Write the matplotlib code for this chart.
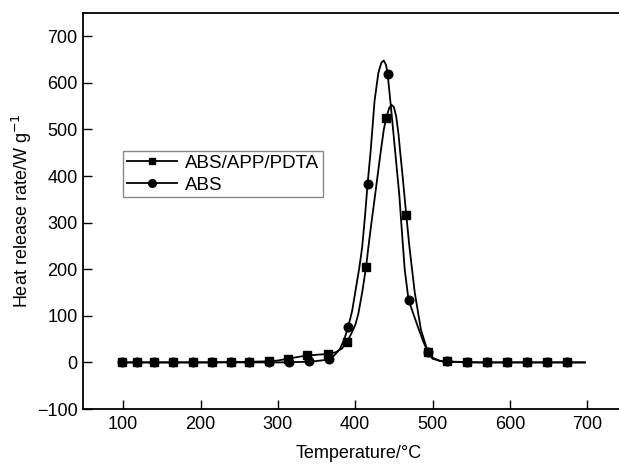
import matplotlib
matplotlib.use("Agg")
import matplotlib.pyplot as plt

plt.rcParams['font.family'] = ['Liberation Sans', 'DejaVu Sans']

# ---- data ----
# continuous curves (temperature in °C, heat release rate in W/g)
abs_curve_t = [97, 150, 200, 250, 300, 330, 345, 360, 370, 380, 386, 391, 396, 400, 405, 409,
               413, 416, 420, 425, 430, 434, 437, 440, 442, 446, 450, 454, 457, 460, 464,
               469, 475, 482, 488, 494, 500, 510, 520, 560, 620, 697]
abs_curve_v = [0, 0, 0, 0, 0, 1, 2, 5, 10, 28, 50, 77, 110, 150, 200, 247,
               320, 383, 454, 561, 622, 644, 648, 638, 618, 552, 482, 412, 360, 290, 200,
               134, 105, 72, 45, 22, 10, 3, 1, 0, 0, 0]

pdta_curve_t = [97, 150, 200, 250, 280, 300, 313, 338, 355, 365, 375, 383, 389, 395, 400, 404,
                409, 414, 417, 421, 425, 432, 437, 440, 444, 447, 450, 453, 456, 458, 461, 463,
                466, 470, 477, 485, 494, 500, 510, 519, 560, 620, 697]
pdta_curve_v = [0, 0, 0, 1, 2, 4, 8, 15, 17, 18, 22, 30, 43, 62, 80, 104,
                150, 204, 247, 300, 350, 440, 500, 524, 546, 553, 548, 528, 490, 454, 405, 370,
                317, 250, 150, 70, 22, 8, 3, 2, 0, 0, 0]

# marker points
abs_mark_t = [98, 118, 140, 165, 190, 215, 239, 263, 288, 314, 340, 366, 391, 416, 442,
              469, 494, 519, 544, 570, 596, 622, 648, 674]
abs_mark_v = [0, 0, 0, 0, 0, 0, 0, 0, 0, 1, 2, 7, 77, 383, 618,
              134, 22, 2, 0, 0, 0, 0, 0, 0]

pdta_mark_t = [98, 118, 140, 165, 190, 215, 239, 263, 288, 313, 338, 365, 389, 414, 440,
               466, 494, 519, 544, 570, 596, 622, 648, 674]
pdta_mark_v = [0, 0, 0, 0, 0, 0, 0, 0, 2, 8, 15, 17, 43, 204, 524,
               317, 22, 2, 0, 0, 0, 0, 0, 0]

series_names = ["ABS/APP/PDTA", "ABS"]
x_ticks = [100, 200, 300, 400, 500, 600, 700]
y_ticks = [-100, 0, 100, 200, 300, 400, 500, 600, 700]

# ---- figure ----
fig = plt.figure(figsize=(6.19, 4.65), dpi=100)
ax = fig.add_axes([83 / 619, 1 - 409 / 465, (712 * 0.7733) / 619, (409 - 13) / 465])

lw = 1.3
ax.plot(pdta_curve_t, pdta_curve_v, color='black', lw=lw)
ax.plot(abs_curve_t, abs_curve_v, color='black', lw=lw)
ax.plot(pdta_mark_t, pdta_mark_v, ls='none', marker='s', ms=5.2, color='black')
ax.plot(abs_mark_t, abs_mark_v, ls='none', marker='o', ms=6.2, color='black')

# legend proxies
h1, = ax.plot([], [], color='black', lw=lw, marker='s', ms=5)
h2, = ax.plot([], [], color='black', lw=lw, marker='o', ms=5.5)
leg = fig.legend([h1, h2], series_names, loc='upper left',
                 bbox_to_anchor=(123 / 619, 1 - 151 / 465), borderaxespad=0,
                 fontsize=13.5, fancybox=False, framealpha=1, handlelength=2.7,
                 handletextpad=0.4, borderpad=0.2, labelspacing=0.25)
leg.get_frame().set_edgecolor('#888888')
leg.get_frame().set_linewidth(1.0)

ax.set_xlim(48, 760)
ax.set_ylim(-100, 750)
ax.set_xticks(x_ticks)
ax.set_yticks(y_ticks)
ax.tick_params(direction='in', length=6.5, width=1, labelsize=13, pad=5)
ax.tick_params(axis='y', pad=4)
for s in ax.spines.values():
    s.set_linewidth(1.3)

ax.set_xlabel("Temperature/°C", fontsize=13, labelpad=9)
ax.set_ylabel("Heat release rate/W g$^{-1}$", fontsize=13, labelpad=2)

fig.savefig("out.png", dpi=100)
